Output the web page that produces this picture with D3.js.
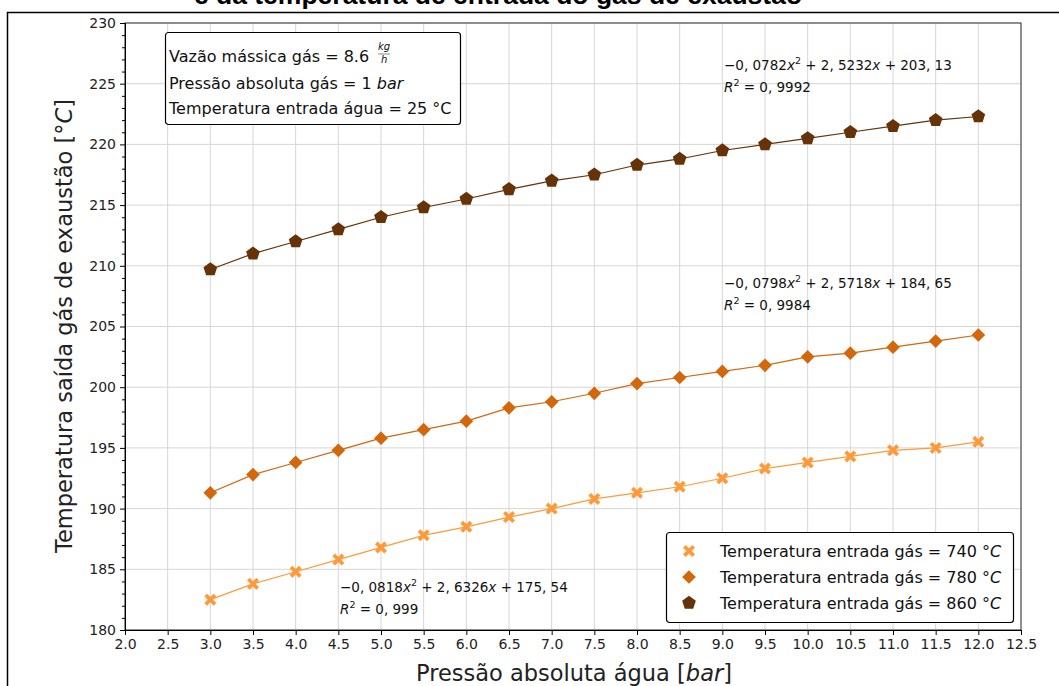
<!DOCTYPE html>
<html>
<head>
<meta charset="utf-8">
<script src="https://cdn.jsdelivr.net/npm/d3@7"></script>
<style>
  body { margin: 0; background: #fff; }
  text { font-family: "DejaVu Sans", sans-serif; }
</style>
</head>
<body>
<div id="chart"></div>
<script>
// Data
const pressure = [3.0, 3.5, 4.0, 4.5, 5.0, 5.5, 6.0, 6.5, 7.0, 7.5, 8.0, 8.5, 9.0, 9.5, 10.0, 10.5, 11.0, 11.5, 12.0];
const temp740 = [182.5, 183.8, 184.8, 185.8, 186.8, 187.8, 188.5, 189.3, 190.0, 190.8, 191.3, 191.8, 192.5, 193.3, 193.8, 194.3, 194.8, 195.0, 195.5];
const temp780 = [191.3, 192.8, 193.8, 194.8, 195.8, 196.5, 197.2, 198.3, 198.8, 199.5, 200.3, 200.8, 201.3, 201.8, 202.5, 202.8, 203.3, 203.8, 204.3];
const temp860 = [209.7, 211.0, 212.0, 213.0, 214.0, 214.8, 215.5, 216.3, 217.0, 217.5, 218.3, 218.8, 219.5, 220.0, 220.5, 221.0, 221.5, 222.0, 222.3];
const seriesNames = ["740", "780", "860"];
const xTicks = d3.range(2.0, 12.51, 0.5);
const yTicks = d3.range(180, 231, 5);
const fits = [
  { a: "0, 0818", b: "2, 6326", c: "175, 54", r2: "0, 999", px: 4.52, py: 183.1 },
  { a: "0, 0798", b: "2, 5718", c: "184, 65", r2: "0, 9984", px: 9.02, py: 208.2 },
  { a: "0, 0782", b: "2, 5232", c: "203, 13", r2: "0, 9992", px: 9.02, py: 226.1 }
];

const W = 1059, H = 686;
const margin = { top: 23, right: 38, bottom: 56, left: 125 };
const width = W - margin.left - margin.right;
const height = H - margin.top - margin.bottom;

const colors = ["#fd9b3a", "#d2670c", "#663208"];
const seriesVals = [temp740, temp780, temp860];

const x = d3.scaleLinear().domain([2.0, 12.5]).range([0, width]);
const y = d3.scaleLinear().domain([180, 230]).range([height, 0]);

const svg = d3.select("#chart").append("svg")
    .attr("width", W)
    .attr("height", H);

// Outer frame of the page the figure sits in
svg.append("rect")
    .attr("x", 7.5).attr("y", 12.5)
    .attr("width", W + 20).attr("height", H + 20)
    .attr("fill", "none")
    .attr("stroke", "#000")
    .attr("stroke-width", 1.5);

// Title (cut off at the top, as in the source)
svg.append("text")
    .attr("x", 498)
    .attr("y", 4)
    .attr("text-anchor", "middle")
    .style("font-family", "'Liberation Sans', Arial, sans-serif")
    .style("font-size", "26.5px")
    .style("font-weight", "bold")
    .text("e da temperatura de entrada do gás de exaustão");

const g = svg.append("g")
    .attr("transform", `translate(${margin.left},${margin.top})`);

// Grid
g.append("g").selectAll("line").data(xTicks).join("line")
    .attr("x1", d => x(d)).attr("x2", d => x(d))
    .attr("y1", 0).attr("y2", height)
    .attr("stroke", "#d6d6d6").attr("stroke-width", 1);
g.append("g").selectAll("line").data(yTicks).join("line")
    .attr("x1", 0).attr("x2", width)
    .attr("y1", d => y(d)).attr("y2", d => y(d))
    .attr("stroke", "#d6d6d6").attr("stroke-width", 1);

// Frame
g.append("rect")
    .attr("width", width).attr("height", height)
    .attr("fill", "none").attr("stroke", "#333").attr("stroke-width", 1);

// Axes
const xAxis = g.append("g")
    .attr("transform", `translate(0,${height})`)
    .call(d3.axisBottom(x).tickValues(xTicks).tickFormat(d3.format(".1f")).tickSizeOuter(0).tickSize(5).tickPadding(4));
const yAxis = g.append("g")
    .call(d3.axisLeft(y).tickValues(yTicks).tickSizeOuter(0).tickSize(5).tickPadding(4));
const yMinor = g.append("g")
    .call(d3.axisLeft(y).tickValues(d3.range(180, 231, 1).filter(v => v % 5 !== 0)).tickSize(3).tickFormat(""));
[xAxis, yAxis, yMinor].forEach(a => {
  a.select(".domain").attr("stroke", "#000");
  a.selectAll(".tick line").attr("stroke", "#000");
  a.selectAll(".tick text").style("font-size", "14px").attr("fill", "#222")
    .style("font-family", "'DejaVu Sans', sans-serif");
});

// Axis labels
svg.append("text")
    .attr("x", 574)
    .attr("y", 681)
    .attr("text-anchor", "middle")
    .style("font-size", "22.5px")
    .attr("fill", "#222")
    .html('Pressão absoluta água [<tspan font-style="italic">bar</tspan>]');

svg.append("text")
    .attr("transform", "translate(72,326) rotate(-90)")
    .attr("text-anchor", "middle")
    .style("font-size", "22.5px")
    .attr("fill", "#222")
    .html('Temperatura saída gás de exaustão [°<tspan font-style="italic">C</tspan>]');

// Markers
const pentagon = r => {
  const pts = d3.range(5).map(i => {
    const a = -Math.PI / 2 + i * 2 * Math.PI / 5;
    return [r * Math.cos(a), r * Math.sin(a)];
  });
  return "M" + pts.join("L") + "Z";
};
const filledX = s => {
  const a = s * 0.45, b = s;
  return `M${-b},${-b + a}L${-b + a},${-b}L0,${-a}L${b - a},${-b}L${b},${-b + a}L${a},0L${b},${b - a}L${b - a},${b}L0,${a}L${-b + a},${b}L${-b},${b - a}L${-a},0Z`;
};
const markerPaths = [
  filledX(6),
  d3.symbol().type(d3.symbolDiamond2).size(120)(),
  pentagon(7.2)
];

const line = d3.line()
    .x(d => x(d[0]))
    .y(d => y(d[1]));

seriesVals.forEach((vals, i) => {
  const pts = pressure.map((p, j) => [p, vals[j]]);
  g.append("path")
      .datum(pts)
      .attr("fill", "none")
      .attr("stroke", colors[i])
      .attr("stroke-width", 1.2)
      .attr("d", line);
  g.append("g").selectAll("path").data(pts).join("path")
      .attr("transform", d => `translate(${x(d[0])},${y(d[1])})`)
      .attr("d", markerPaths[i])
      .attr("fill", colors[i]);
});

// Fit annotations
fits.forEach(f => {
  g.append("text")
      .attr("x", x(f.px))
      .attr("y", y(f.py))
      .style("font-size", "13.5px")
      .attr("fill", "#111")
      .attr("xml:space", "preserve")
      .html(`−${f.a}<tspan font-style="italic">x</tspan><tspan dy="-6" font-size="9.5px">2</tspan><tspan dy="6"> + ${f.b}</tspan><tspan font-style="italic">x</tspan> + ${f.c}`);
  g.append("text")
      .attr("x", x(f.px))
      .attr("y", y(f.py) + 22)
      .style("font-size", "13.5px")
      .attr("fill", "#111")
      .html(`<tspan font-style="italic">R</tspan><tspan dy="-6" font-size="9.5px">2</tspan><tspan dy="6"> = ${f.r2}</tspan>`);
});

// Info box
const info = svg.append("g").attr("transform", "translate(165,32)");
info.append("rect")
    .attr("x", 0.5).attr("y", 0.5)
    .attr("width", 295).attr("height", 92)
    .attr("rx", 3)
    .attr("fill", "#fff").attr("stroke", "#000").attr("stroke-width", 1.2);
const first = info.append("text").attr("x", 4).attr("y", 30).style("font-size", "16px").attr("fill", "#111")
    .text("Vazão mássica gás = 8.6");
const fx = 4 + first.node().getComputedTextLength() + 15;
info.append("text").attr("x", fx).attr("y", 18).style("font-size", "10px").attr("font-style", "italic").attr("text-anchor", "middle").attr("fill", "#111").text("kg");
info.append("line").attr("x1", fx - 6).attr("x2", fx + 6).attr("y1", 22).attr("y2", 22).attr("stroke", "#111").attr("stroke-width", 0.5);
info.append("text").attr("x", fx).attr("y", 31).style("font-size", "10px").attr("font-style", "italic").attr("text-anchor", "middle").attr("fill", "#111").text("h");
info.append("text").attr("x", 4).attr("y", 57).style("font-size", "16px").attr("fill", "#111")
    .html('Pressão absoluta gás = 1 <tspan font-style="italic">bar</tspan>');
info.append("text").attr("x", 4).attr("y", 82).style("font-size", "16px").attr("fill", "#111")
    .text("Temperatura entrada água = 25 °C");

// Legend
const legend = svg.append("g").attr("transform", "translate(666,532)");
legend.append("rect")
    .attr("x", 0.5).attr("y", 0.5)
    .attr("width", 347).attr("height", 90)
    .attr("rx", 3)
    .attr("fill", "#fff").attr("stroke", "#000").attr("stroke-width", 1.2);
seriesNames.forEach((name, i) => {
  const cy = 19 + i * 26;
  legend.append("path")
      .attr("transform", `translate(23,${cy})`)
      .attr("d", markerPaths[i])
      .attr("fill", colors[i]);
  legend.append("text")
      .attr("x", 54).attr("y", cy + 6)
      .style("font-size", "16px").attr("fill", "#111")
      .html(`Temperatura entrada gás = ${name} °<tspan font-style="italic">C</tspan>`);
});
</script>
</body>
</html>
